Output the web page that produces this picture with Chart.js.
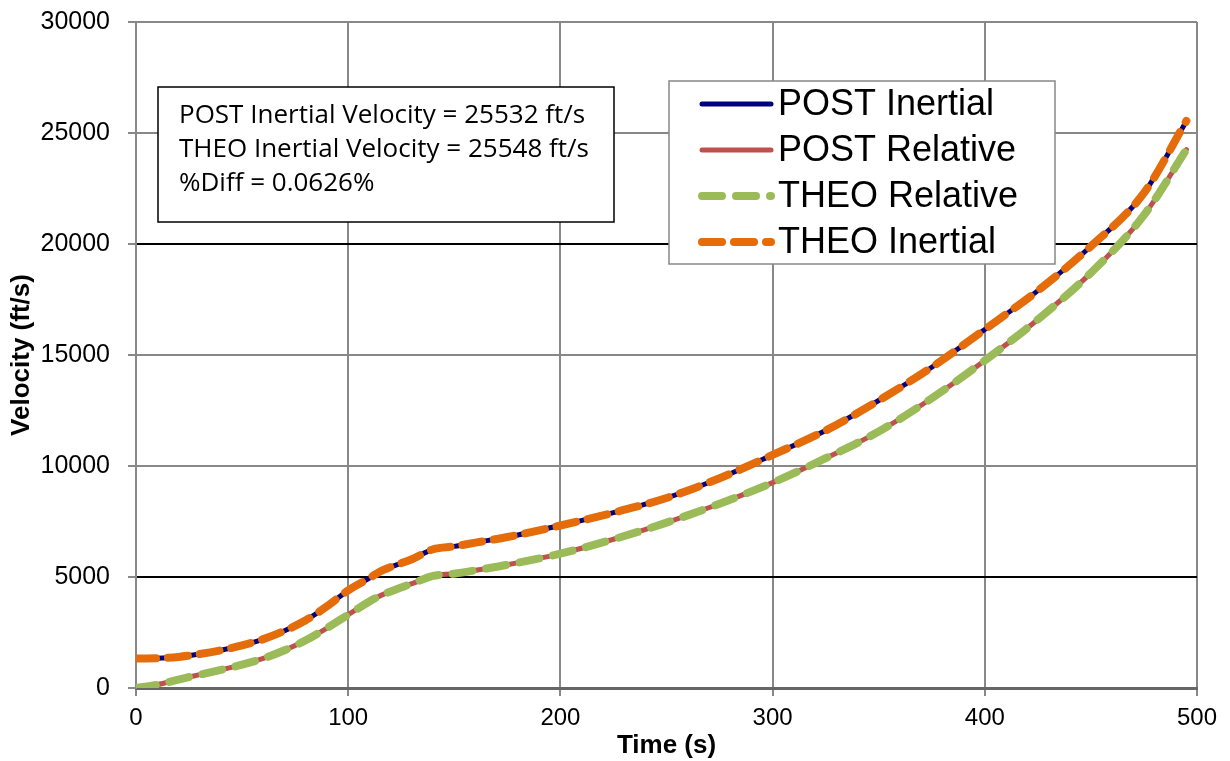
<!DOCTYPE html>
<html>
<head>
<meta charset="utf-8">
<script src="https://cdn.jsdelivr.net/npm/chart.js@4"></script>
<style>
  html, body { margin: 0; padding: 0; background: #fff; }
  #wrap { position: relative; width: 1230px; height: 761px; }
</style>
</head>
<body>
<div id="wrap"><canvas id="myChart" width="1230" height="761"></canvas></div>
<script>
// data
const timeInertial = [0, 10, 20, 30, 40, 50, 60, 70, 80, 90, 100, 110, 115, 120, 130, 140, 150, 160, 175, 200, 225, 250, 275, 300, 325, 350, 375, 400, 425, 450, 475, 495];
const postInertial = [1330, 1340, 1400, 1530, 1700, 1920, 2200, 2580, 3050, 3680, 4400, 4950, 5250, 5450, 5800, 6250, 6380, 6550, 6800, 7320, 7900, 8560, 9450, 10500, 11600, 12950, 14450, 16150, 17900, 19900, 22300, 25532];
const theoInertial = [1330, 1340, 1400, 1530, 1700, 1920, 2200, 2580, 3050, 3680, 4400, 4950, 5250, 5450, 5800, 6250, 6380, 6550, 6800, 7320, 7900, 8560, 9450, 10500, 11600, 12950, 14450, 16150, 17900, 19900, 22300, 25548];
const timeRelative = [0, 10, 20, 30, 40, 50, 60, 70, 80, 90, 100, 110, 115, 120, 130, 140, 150, 160, 175, 200, 225, 250, 275, 300, 325, 350, 375, 400, 425, 450, 475, 495];
const postRelative = [0, 150, 380, 600, 820, 1050, 1330, 1700, 2150, 2700, 3300, 3900, 4150, 4350, 4700, 5050, 5150, 5300, 5550, 6050, 6700, 7450, 8300, 9250, 10350, 11550, 13050, 14750, 16600, 18700, 21300, 24250];
const theoRelative = [0, 150, 380, 600, 820, 1050, 1330, 1700, 2150, 2700, 3300, 3900, 4150, 4350, 4700, 5050, 5150, 5300, 5550, 6050, 6700, 7450, 8300, 9250, 10350, 11550, 13050, 14750, 16600, 18700, 21300, 24250];

const seriesNames = ["POST Inertial", "POST Relative", "THEO Relative", "THEO Inertial"];
const noteLines = [
  "POST Inertial Velocity = 25532 ft/s",
  "THEO Inertial Velocity = 25548 ft/s",
  "%Diff = 0.0626%",
];

function pts(xs, ys) {
  return xs.map((x, i) => ({ x: x, y: ys[i] }));
}

const styles = [
  { color: "#000080", width: 5, dash: [] },
  { color: "#C0504D", width: 5, dash: [] },
  { color: "#9BBB59", width: 8, dash: [20, 14] },
  { color: "#E46C0A", width: 8, dash: [20, 12] },
];

const seriesData = [
  pts(timeInertial, postInertial),
  pts(timeRelative, postRelative),
  pts(timeRelative, theoRelative),
  pts(timeInertial, theoInertial),
];

// lower order drawn on top
const drawOrder = [3, 2, 1, 0];

const datasets = seriesNames.map((name, i) => ({
  label: name,
  data: seriesData[i],
  borderColor: styles[i].color,
  borderWidth: styles[i].width,
  borderDash: styles[i].dash,
  borderCapStyle: "round",
  pointRadius: 0,
  fill: false,
  cubicInterpolationMode: "monotone",
  order: drawOrder[i],
}));

const axisFont = "'Liberation Sans', Arial, sans-serif";

// legend + text box drawn inside the plot
const boxesPlugin = {
  id: "boxes",
  afterDraw(chart) {
    const ctx = chart.ctx;
    ctx.save();

    // note box
    ctx.fillStyle = "#fff";
    ctx.fillRect(158, 87, 456, 135);
    ctx.strokeStyle = "#000";
    ctx.lineWidth = 1.5;
    ctx.strokeRect(158, 87, 456, 135);
    ctx.fillStyle = "#000";
    ctx.font = "26px 'Open Sans', Lato, sans-serif";
    ctx.textBaseline = "middle";
    noteLines.forEach((t, i) => {
      ctx.fillText(t, 179, 116 + i * 34);
    });

    // legend box
    ctx.fillStyle = "#fff";
    ctx.fillRect(669, 81, 386, 183);
    ctx.strokeStyle = "#888";
    ctx.lineWidth = 1.5;
    ctx.strokeRect(669, 81, 386, 183);
    ctx.font = "36px " + axisFont;
    seriesNames.forEach((name, i) => {
      const y = 104 + i * 46;
      const s = styles[i];
      ctx.strokeStyle = s.color;
      ctx.lineWidth = s.width;
      ctx.lineCap = "round";
      ctx.setLineDash(s.dash);
      ctx.beginPath();
      ctx.moveTo(702, y);
      ctx.lineTo(771, y);
      ctx.stroke();
      ctx.setLineDash([]);
      ctx.fillStyle = "#000";
      ctx.fillText(name, 778, y + 1);
    });
    ctx.restore();
  },
};

const config = {
  type: "line",
  data: { datasets },
  options: {
    responsive: false,
    animation: false,
    layout: { padding: { top: 22, right: 33, left: 0, bottom: 0 } },
    plugins: {
      legend: { display: false },
      tooltip: { enabled: false },
    },
    scales: {
      x: {
        type: "linear",
        min: 0,
        max: 500,
        ticks: {
          stepSize: 100,
          color: "#000",
          padding: 8,
          font: { family: axisFont, size: 24 },
        },
        grid: {
          color: "#888",
          lineWidth: 2,
          tickLength: 8,
          tickColor: "#888",
        },
        border: { color: "#666", width: 3 },
        title: {
          display: true,
          text: "Time (s)",
          color: "#000",
          padding: { top: -10, bottom: 0 },
          font: { family: axisFont, size: 26, weight: "bold" },
        },
        afterFit(scale) {
          scale.height = 73;
          scale.paddingLeft = 0;
          scale.paddingRight = 0;
        },
      },
      y: {
        min: 0,
        max: 30000,
        ticks: {
          stepSize: 5000,
          color: "#000",
          padding: 18,
          callback: (v) => String(v),
          font: { family: axisFont, size: 25 },
        },
        grid: {
          color: (c) => (c.tick && (c.tick.value === 5000 || c.tick.value === 20000) ? "#000" : "#888"),
          lineWidth: 2,
          tickLength: 8,
          tickColor: "#888",
        },
        border: { color: "#888", width: 2 },
        title: {
          display: true,
          text: "Velocity (ft/s)",
          color: "#000",
          padding: { top: 6, bottom: 0 },
          font: { family: axisFont, size: 26, weight: "bold" },
        },
        afterFit(scale) {
          scale.width = 136;
          scale.paddingTop = 0;
          scale.paddingBottom = 0;
        },
      },
    },
  },
  plugins: [boxesPlugin],
};

const myChart = new Chart(document.getElementById("myChart"), config);
</script>
</body>
</html>
